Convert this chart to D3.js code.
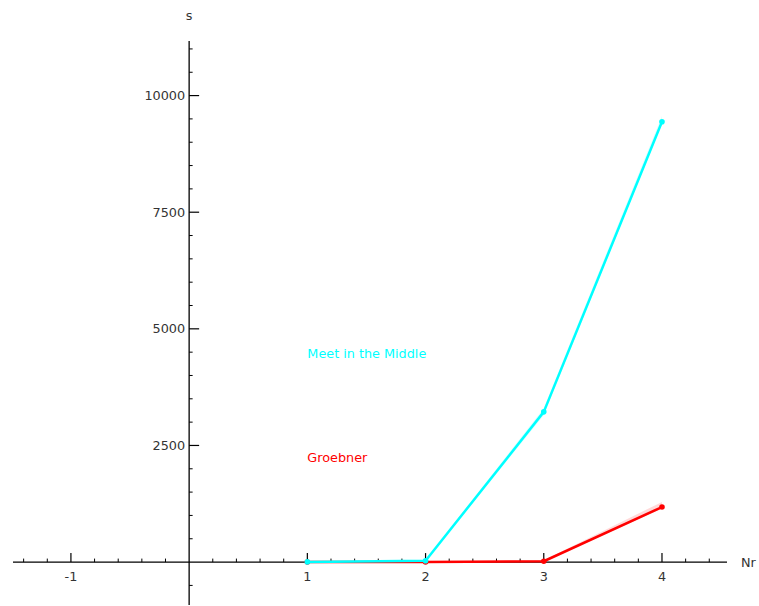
<!DOCTYPE html>
<html>
<head>
<meta charset="utf-8">
<script src="https://cdn.jsdelivr.net/npm/d3@7"></script>
<style>
  html, body { margin: 0; padding: 0; background: #fff; }
  svg { display: block; }
  text { font-family: "DejaVu Sans", sans-serif; }
</style>
</head>
<body>
<div id="chart"></div>
<script>
// Running time (s) against number of rounds Nr
const rounds = [1, 2, 3, 4];
const meetInTheMiddle = [4, 28, 3220, 9440];
const meetLow = [0, 10, 3150, 9400];
const meetHigh = [10, 45, 3300, 9560];
const groebner = [1, 3, 18, 1180];
const groebnerLow = [0, 0, 5, 1150];
const groebnerHigh = [3, 8, 40, 1290];

const xMajorTicks = [-1, 1, 2, 3, 4];
const yMajorTicks = [2500, 5000, 7500, 10000];

const seriesLabels = [
  { text: "Meet in the Middle", x: 1, y: 4480, color: "#00ffff" },
  { text: "Groebner", x: 1, y: 2240, color: "#ff0000" }
];

const width = 759, height = 606;
const svg = d3.select("#chart").append("svg")
  .attr("width", width).attr("height", height);

const x = d3.scaleLinear().domain([-1.49, 4.55]).range([13, 727]);
const y = d3.scaleLinear().domain([-920, 11170]).range([605, 41]);

// Axes drawn through the origin
const g = svg.append("g");
g.append("line")
  .attr("x1", x(-1.49)).attr("x2", x(4.55))
  .attr("y1", y(0)).attr("y2", y(0))
  .attr("stroke", "#000").attr("stroke-width", 1.3);
g.append("line")
  .attr("x1", x(0)).attr("x2", x(0))
  .attr("y1", y(11170)).attr("y2", y(-920))
  .attr("stroke", "#000").attr("stroke-width", 1.3);

// x ticks
const xMinor = d3.range(-1.4, 4.55, 0.2).map(v => Math.round(v * 10) / 10)
  .filter(v => Math.abs(v) > 1e-9 && !xMajorTicks.includes(v));
g.selectAll(".xminor").data(xMinor).join("line")
  .attr("x1", d => x(d)).attr("x2", d => x(d))
  .attr("y1", y(0)).attr("y2", y(0) - 3.5)
  .attr("stroke", "#000").attr("stroke-width", 1);
g.selectAll(".xmajor").data(xMajorTicks).join("line")
  .attr("x1", d => x(d)).attr("x2", d => x(d))
  .attr("y1", y(0)).attr("y2", y(0) - 9)
  .attr("stroke", "#000").attr("stroke-width", 1.2);
g.selectAll(".xlabel").data(xMajorTicks).join("text")
  .attr("x", d => x(d)).attr("y", y(0) + 19)
  .attr("text-anchor", "middle")
  .attr("font-size", 12.8).attr("fill", "#333")
  .text(d => d3.format("d")(d).replace("−", "-"));

// y ticks
const yMinor = d3.range(-500, 11170, 500).filter(v => v !== 0 && !yMajorTicks.includes(v));
g.selectAll(".yminor").data(yMinor).join("line")
  .attr("x1", x(0)).attr("x2", x(0) + 3.5)
  .attr("y1", d => y(d)).attr("y2", d => y(d))
  .attr("stroke", "#000").attr("stroke-width", 1);
g.selectAll(".ymajor").data(yMajorTicks).join("line")
  .attr("x1", x(0)).attr("x2", x(0) + 10)
  .attr("y1", d => y(d)).attr("y2", d => y(d))
  .attr("stroke", "#000").attr("stroke-width", 1.2);
g.selectAll(".ylabel").data(yMajorTicks).join("text")
  .attr("x", x(0) - 4).attr("y", d => y(d))
  .attr("dy", "0.35em")
  .attr("text-anchor", "end")
  .attr("font-size", 12.8).attr("fill", "#333")
  .text(d => d);

// axis names
svg.append("text").attr("x", x(0)).attr("y", 20)
  .attr("text-anchor", "middle").attr("font-size", 12.8).attr("fill", "#333")
  .text("s");
svg.append("text").attr("x", 741).attr("y", y(0)).attr("dy", "0.35em")
  .attr("font-size", 12.8).attr("fill", "#333")
  .text("Nr");

// series: faint spread band, line, points (Groebner drawn underneath)
const series = [
  { values: groebner, low: groebnerLow, high: groebnerHigh, color: "#ff0000" },
  { values: meetInTheMiddle, low: meetLow, high: meetHigh, color: "#00ffff" }
];
const area = d3.area().x(d => x(d.x)).y0(d => y(d.lo)).y1(d => y(d.hi));
const line = d3.line().x(d => x(d.x)).y(d => y(d.v));

series.forEach(s => {
  const pts = rounds.map((r, i) => ({ x: r, v: s.values[i], lo: s.low[i], hi: s.high[i] }));
  svg.append("path").datum(pts)
    .attr("d", area).attr("fill", s.color).attr("fill-opacity", 0.15);
  svg.append("path").datum(pts)
    .attr("d", line).attr("fill", "none")
    .attr("stroke", s.color).attr("stroke-width", 2.5)
    .attr("stroke-linejoin", "round");
  svg.selectAll(null).data(pts).join("circle")
    .attr("cx", d => x(d.x)).attr("cy", d => y(d.v)).attr("r", 2.8)
    .attr("fill", s.color);
});

// series labels
svg.selectAll(".slabel").data(seriesLabels).join("text")
  .attr("x", d => x(d.x)).attr("y", d => y(d.y)).attr("dy", "0.35em")
  .attr("font-size", 12.8).attr("fill", d => d.color)
  .text(d => d.text);
</script>
</body>
</html>
